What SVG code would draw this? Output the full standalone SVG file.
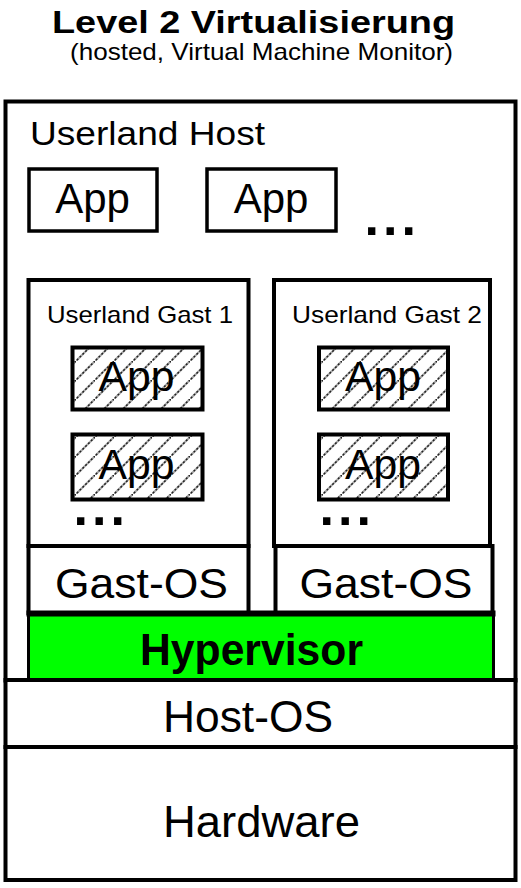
<svg xmlns="http://www.w3.org/2000/svg" width="521" height="888" viewBox="0 0 521 888">
<style>
  .box { fill: #fff; stroke: #000; stroke-width: 4; }
  .app { fill: #fff; stroke: #000; stroke-width: 3.5; }
  .happ { fill: url(#hatch); stroke: #000; stroke-width: 4; }
  .t { font-family: "Liberation Sans", Arial, sans-serif; fill: #000; }
  .dots { font-family: "Liberation Sans", Arial, sans-serif; font-weight: bold; font-size: 52px; letter-spacing: 4px; fill: #000; }
</style>
<defs>
  <pattern id="hatch" patternUnits="userSpaceOnUse" width="19" height="19">
    <rect width="19" height="19" fill="#fff"/>
    <line x1="-2" y1="21" x2="21" y2="-2" stroke="#aaa" stroke-width="2.2"/>
    <line x1="-2" y1="21" x2="21" y2="-2" stroke="#222" stroke-width="1.5" stroke-dasharray="2 2"/>
  </pattern>
</defs>
<rect width="521" height="888" fill="#fff"/>

<g id="title">
  <text class="t" x="253.5" y="33" font-size="32" font-weight="bold" text-anchor="middle" textLength="403" lengthAdjust="spacingAndGlyphs">Level 2 Virtualisierung</text>
  <text class="t" x="261.5" y="60" font-size="24" text-anchor="middle" textLength="383" lengthAdjust="spacingAndGlyphs">(hosted, Virtual Machine Monitor)</text>
</g>

<g id="userland-host">
  <rect class="box" x="5.5" y="101.5" width="510" height="579"/>
  <text class="t" x="30" y="145" font-size="34" textLength="235" lengthAdjust="spacingAndGlyphs">Userland Host</text>
</g>

<g id="host-app-1">
  <rect class="app" x="29" y="169" width="128" height="62"/>
  <text class="t" x="92.5" y="213" font-size="42" text-anchor="middle">App</text>
</g>
<g id="host-app-2">
  <rect class="app" x="207" y="169" width="129" height="62"/>
  <text class="t" x="271" y="213" font-size="42" text-anchor="middle">App</text>
</g>
<g id="host-dots">
  <text class="dots" x="364.5" y="235">...</text>
</g>

<g id="userland-gast-1">
  <rect class="box" x="28.5" y="280" width="220" height="266"/>
  <text class="t" x="47" y="323" font-size="24" textLength="186" lengthAdjust="spacingAndGlyphs">Userland Gast 1</text>
</g>
<g id="gast1-app-1">
  <rect class="happ" x="72.5" y="347.5" width="130" height="62"/>
  <text class="t" x="136.5" y="391" font-size="42" text-anchor="middle" textLength="76" lengthAdjust="spacingAndGlyphs">App</text>
</g>
<g id="gast1-app-2">
  <rect class="happ" x="72.5" y="434.5" width="130" height="65"/>
  <text class="t" x="136.5" y="479" font-size="42" text-anchor="middle" textLength="76" lengthAdjust="spacingAndGlyphs">App</text>
</g>
<g id="gast1-dots">
  <text class="dots" x="73.5" y="525">...</text>
</g>

<g id="userland-gast-2">
  <rect class="box" x="274" y="280" width="216" height="266"/>
  <text class="t" x="292" y="323" font-size="24" textLength="190" lengthAdjust="spacingAndGlyphs">Userland Gast 2</text>
</g>
<g id="gast2-app-1">
  <rect class="happ" x="319" y="347.5" width="129" height="62"/>
  <text class="t" x="383" y="391" font-size="42" text-anchor="middle" textLength="76" lengthAdjust="spacingAndGlyphs">App</text>
</g>
<g id="gast2-app-2">
  <rect class="happ" x="319" y="434.5" width="129" height="65"/>
  <text class="t" x="383" y="479" font-size="42" text-anchor="middle" textLength="76" lengthAdjust="spacingAndGlyphs">App</text>
</g>
<g id="gast2-dots">
  <text class="dots" x="319.5" y="525">...</text>
</g>

<g id="gast-os-1">
  <rect class="box" x="28.5" y="546" width="220" height="67"/>
  <text class="t" x="141.5" y="598" font-size="43" text-anchor="middle" textLength="173" lengthAdjust="spacingAndGlyphs">Gast-OS</text>
</g>
<g id="gast-os-2">
  <rect class="box" x="275.5" y="546" width="217" height="67"/>
  <text class="t" x="386" y="598" font-size="43" text-anchor="middle" textLength="173" lengthAdjust="spacingAndGlyphs">Gast-OS</text>
</g>

<g id="hypervisor">
  <rect x="28.5" y="613.5" width="465" height="66.5" fill="#00ff00" stroke="#000" stroke-width="3"/>
  <line x1="26.5" y1="613.5" x2="495.5" y2="613.5" stroke="#000" stroke-width="6"/>
  <text class="t" x="251.5" y="665" font-size="44" font-weight="bold" text-anchor="middle" textLength="223" lengthAdjust="spacingAndGlyphs">Hypervisor</text>
</g>

<g id="host-os">
  <rect class="box" x="5.5" y="680" width="510" height="67" stroke-width="5"/>
  <text class="t" x="248" y="732" font-size="44" text-anchor="middle" textLength="170" lengthAdjust="spacingAndGlyphs">Host-OS</text>
</g>

<g id="hardware">
  <rect class="box" x="5.5" y="747" width="510" height="133" stroke-width="5"/>
  <text class="t" x="261.5" y="837" font-size="44" text-anchor="middle" textLength="197" lengthAdjust="spacingAndGlyphs">Hardware</text>
</g>

<g id="connectors"></g>
</svg>
